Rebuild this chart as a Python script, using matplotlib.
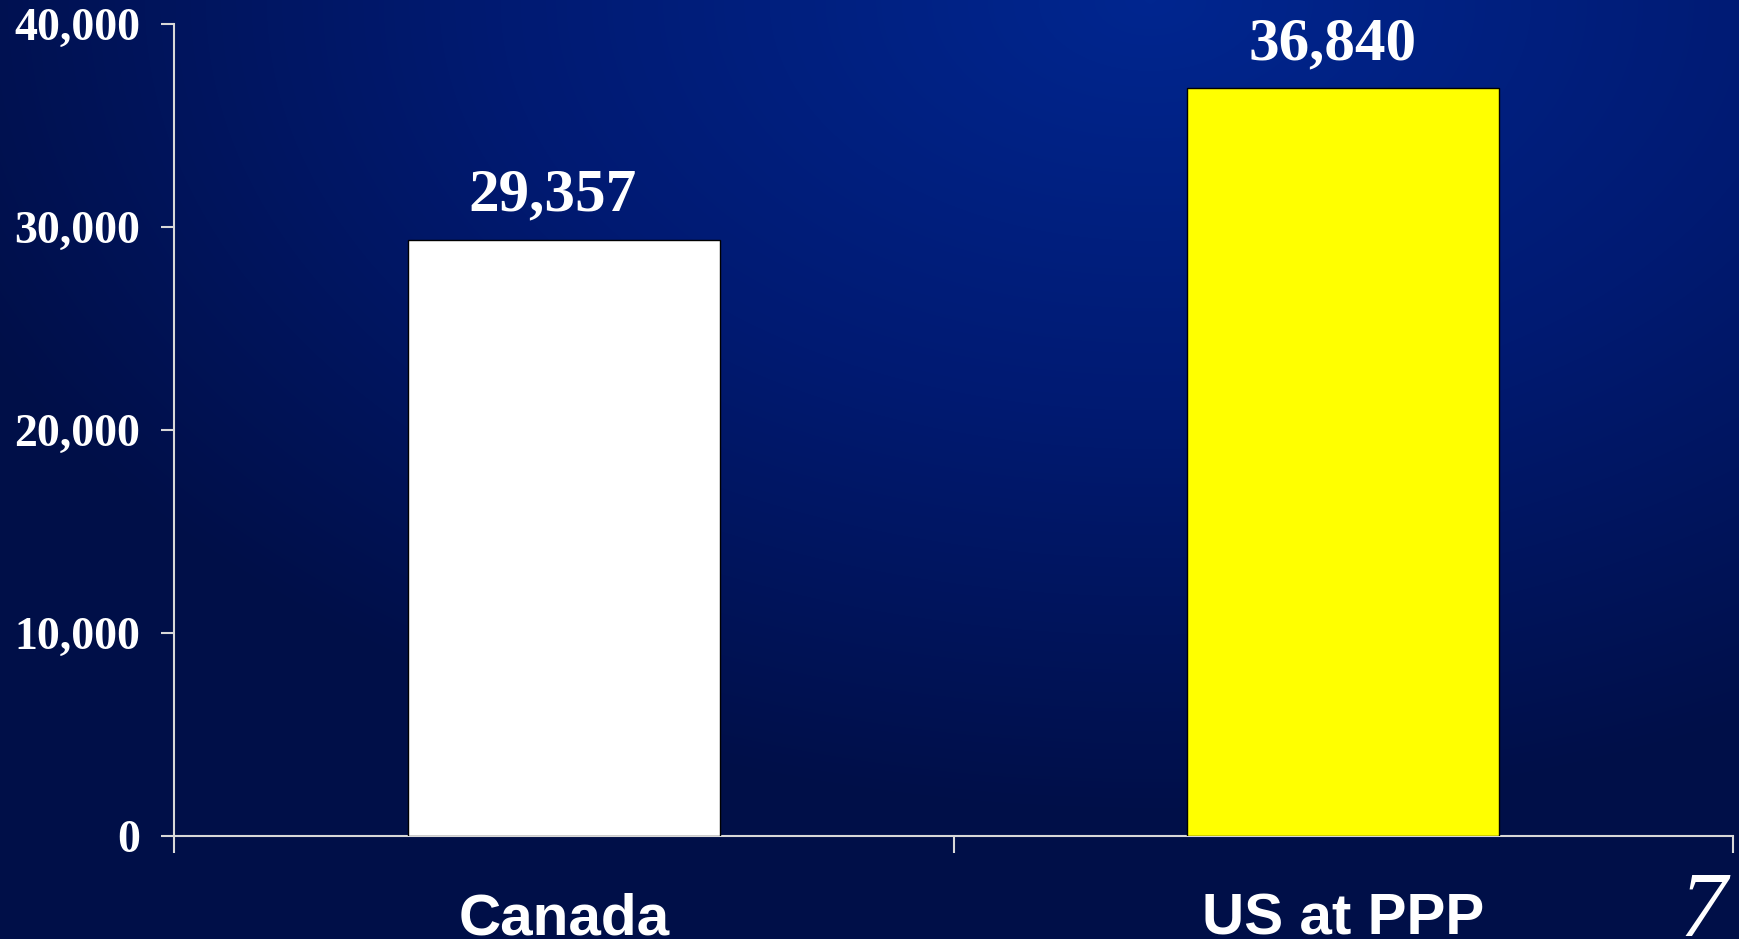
import matplotlib.pyplot as plt
import numpy as np
from matplotlib.colors import LinearSegmentedColormap
from matplotlib.ticker import FuncFormatter

# data
categories = ['Canada', 'US at PPP']
values = [29357, 36840]
bar_colors = ['#FFFFFF', '#FFFF00']
y_ticks = [0, 10000, 20000, 30000, 40000]
slide_number = '7'

W, H = 1739, 939
fig = plt.figure(figsize=(W / 100, H / 100), dpi=100)

# background: radial glow from top right
bg = fig.add_axes([0, 0, 1, 1], zorder=-10)
yy, xx = np.mgrid[0:H, 0:W]
t = np.sqrt(((xx - 1150) / 1300.0) ** 2 + (yy / 820.0) ** 2)
t = np.clip(t, 0, 1)
cmap = LinearSegmentedColormap.from_list('bg', ['#00268F', '#001A72', '#000F48'])
bg.imshow(t, cmap=cmap, aspect='auto', extent=[0, 1, 0, 1], origin='upper')
bg.axis('off')

ax = fig.add_axes([174 / W, 1 - 836 / H, (1733 - 174) / W, (836 - 24) / H])
ax.patch.set_alpha(0)

x = np.arange(len(categories))
bars = ax.bar(x, values, 0.4, color=bar_colors, edgecolor='black', linewidth=1, zorder=3)

# value labels sit a little left of the bar centre, as in the slide
for xi, val in zip(x, values):
    ax.annotate(f'{val:,}', (xi, val), xytext=(-8, 21), textcoords='offset points',
                ha='center', va='baseline', fontsize=44, fontweight='bold',
                family='Liberation Serif', color='white')

ax.set_xlim(-0.5, 1.5)
ax.set_ylim(0, 40000)
ax.set_yticks(y_ticks)
ax.yaxis.set_major_formatter(FuncFormatter(lambda v, p: f'{int(v):,}'))

ax.set_xticks(x, categories)
ax.set_xticks([-0.5, 0.5, 1.5], minor=True)
ax.tick_params(axis='x', which='major', length=0, pad=41, labelsize=42, labelcolor='white')
ax.tick_params(axis='x', which='minor', length=12, width=1.5, color='#D8D8D8', direction='out')
ax.tick_params(axis='y', length=9.5, width=1.5, color='#D8D8D8', pad=15, labelsize=33, labelcolor='white')

for lab in ax.get_xticklabels():
    lab.set_family('Liberation Sans')
    lab.set_fontweight('bold')
for lab in ax.get_yticklabels():
    lab.set_family('Liberation Serif')
    lab.set_fontweight('bold')

for side in ['top', 'right']:
    ax.spines[side].set_visible(False)
for side in ['left', 'bottom']:
    ax.spines[side].set_color('#D8D8D8')
    ax.spines[side].set_linewidth(1.5)

fig.text(1703 / W, 0.003, slide_number, ha='center', va='baseline', fontsize=68,
         family='Liberation Serif', style='italic', color='white')

plt.savefig('out.png', dpi=100)
